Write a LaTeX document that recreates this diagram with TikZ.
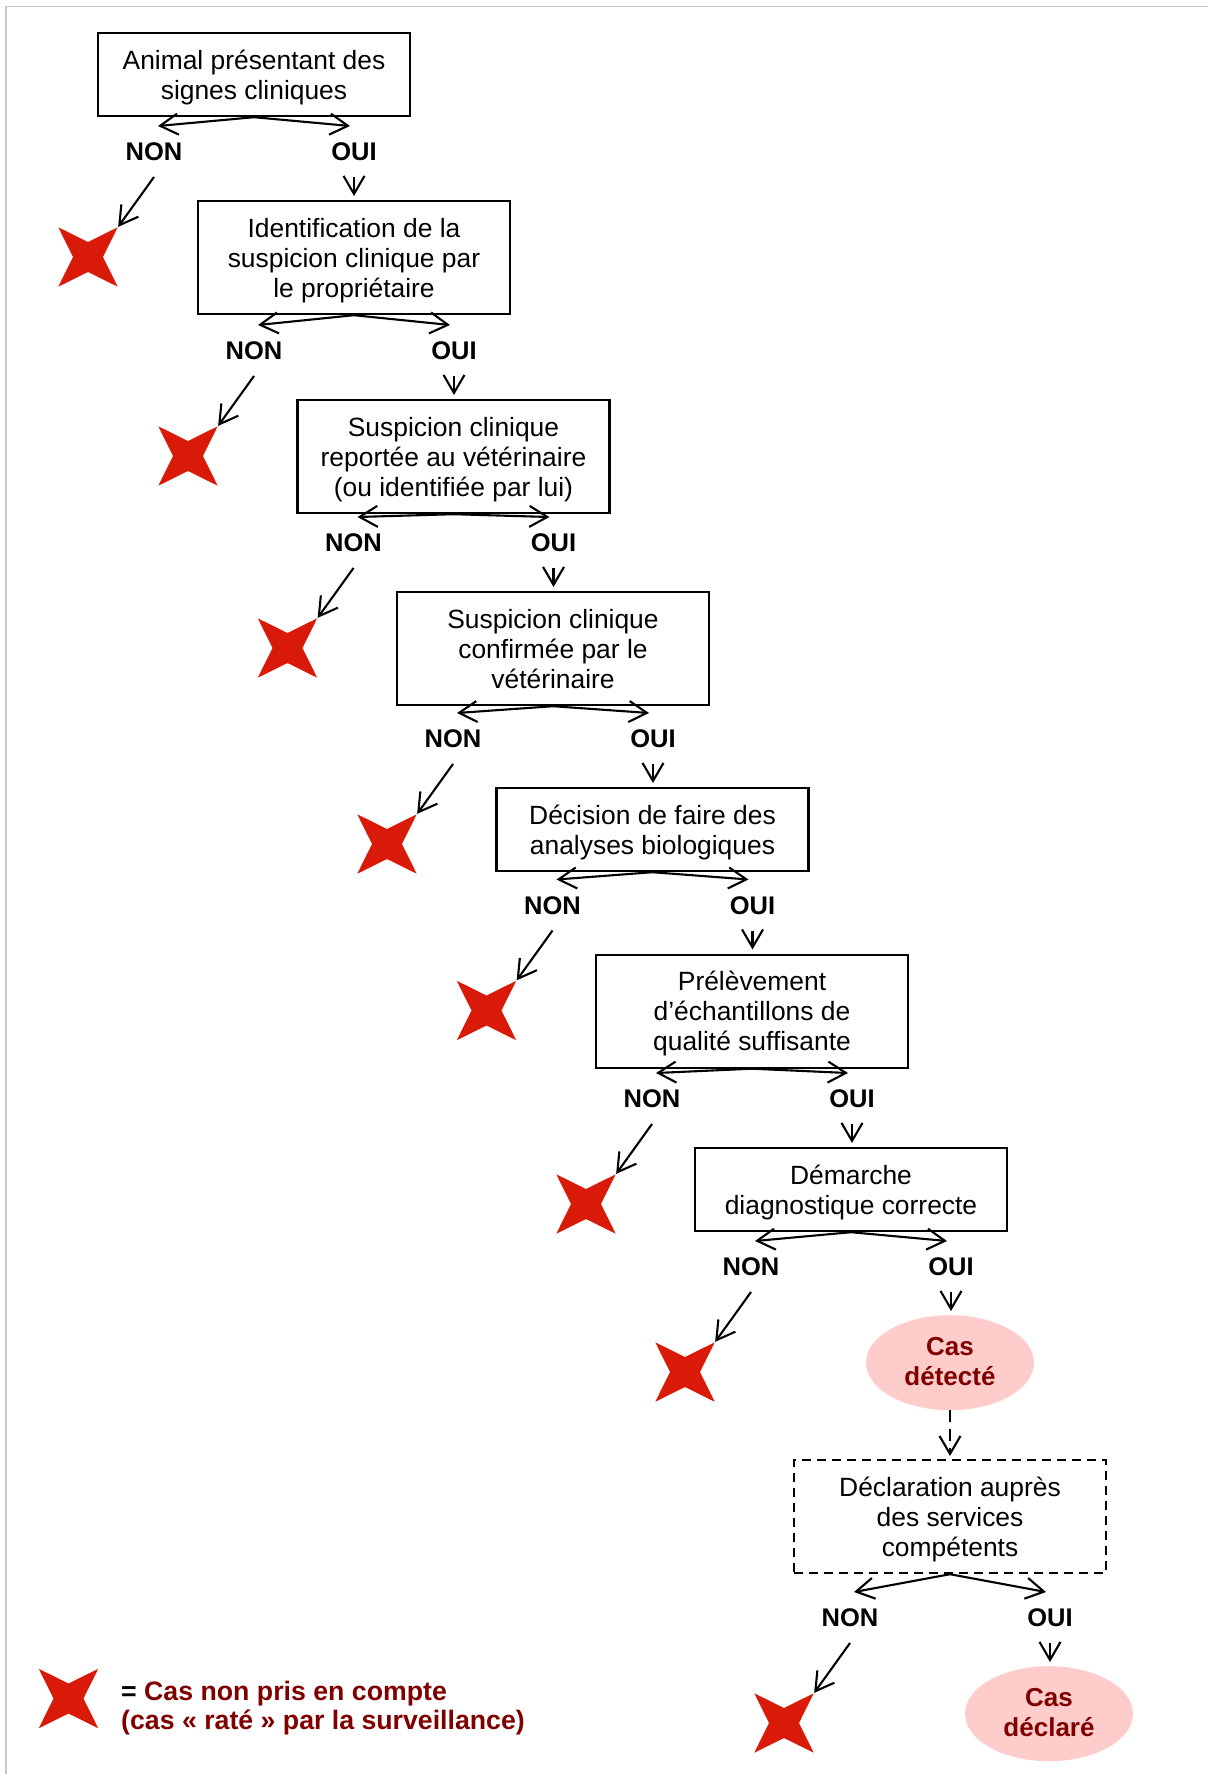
\documentclass[tikz,border=0pt]{standalone}
\usepackage{fontspec}
\setmainfont{Liberation Sans}
\usetikzlibrary{arrows.meta,shapes.geometric}
\definecolor{xred}{RGB}{218,26,8}
\definecolor{darkred}{RGB}{128,0,0}
\definecolor{pinkfill}{RGB}{255,204,204}
\definecolor{bordergray}{RGB}{200,200,200}
\tikzset{
 stepbox/.style={draw, line width=2.2bp, minimum width=312bp, align=center, inner sep=0pt,
   text depth=0pt, anchor=north, font=\fontsize{26.4bp}{30bp}\selectfont},
 two/.style={minimum height=83bp},
 three/.style={minimum height=113bp},
 lab/.style={font=\bfseries\fontsize{25.5bp}{30bp}\selectfont, anchor=base, inner sep=0pt},
 arr/.style={line width=2.1bp, -{Straight Barb[length=18bp,width=21bp,line width=2.1bp]}},
 missed/.style={shape=star, star points=4, star point ratio=2.8, fill=xred, draw=none,
   inner sep=0pt, minimum size=84bp, rotate=45},
 result/.style={ellipse, fill=pinkfill, minimum width=168bp, minimum height=95bp, inner sep=0pt,
   align=center, text depth=0pt, anchor=north, text=darkred,
   font=\bfseries\fontsize{26bp}{29.5bp}\selectfont},
 legtext/.style={anchor=base west, inner sep=0pt, text=darkred,
   font=\bfseries\fontsize{26.7bp}{29bp}\selectfont},
}
% #1 id, #2 centre x, #3 top y of next node, #4 this node, #5 next node
\newcommand\branchpair[5]{%
  \coordinate (tn#1) at ({#2-96},{#3-74});
  \coordinate (to#1) at ({#2+96},{#3-74});
  \draw[arr] (#4.south) -- (tn#1);
  \draw[arr] (#4.south) -- (to#1);
  \node[lab] (non#1) at ({#2-100},{#3-39.5}) {NON};
  \node[lab] (oui#1) at ({#2+100},{#3-39.5}) {OUI};
  \coordinate (ns#1) at ({#2-100},{#3-23});
  \coordinate (os#1) at ({#2+100},{#3-23});
  \node[missed] (x#1) at ({#2-166},{#3+57}) {};
  \draw[arr] (ns#1) -- (x#1.outer point 4);
  \draw[arr, shorten >=4bp] (os#1) -- (os#1 |- #5.north);
}
\begin{document}
\begin{tikzpicture}[x=1bp, y=-1bp]
\useasboundingbox (0,0) rectangle (1208,1774);
\draw[bordergray, line width=1.5bp] (6,1774) -- (6,6.5) -- (1208,6.5);

\node[stepbox, two]   (b1) at (254,32)    {Animal présentant des\\signes cliniques};
\node[stepbox, three] (b2) at (354,200)   {Identification de la\\suspicion clinique par\\le propriétaire};
\node[stepbox, three] (b3) at (453.5,399) {Suspicion clinique\\reportée au vétérinaire\\(ou identifiée par lui)};
\node[stepbox, three] (b4) at (553,591)   {Suspicion clinique\\confirmée par le\\vétérinaire};
\node[stepbox, two]   (b5) at (652.5,787) {Décision de faire des\\analyses biologiques};
\node[stepbox, three] (b6) at (752,953.5) {Prélèvement\\d’échantillons de\\qualité suffisante};
\node[stepbox, two]   (b7) at (851,1147)  {Démarche\\diagnostique correcte};
\node[result, text depth=3bp] (e1) at (950,1315)  {Cas\\détecté};
\node[stepbox, three, dash pattern=on 9bp off 6bp] (b8) at (950,1459) {Déclaration auprès\\des services\\compétents};
\node[result, text depth=3bp] (e2) at (1049,1666) {Cas\\déclaré};

\branchpair{1}{254}{200}{b1}{b2}
\branchpair{2}{354}{399}{b2}{b3}
\branchpair{3}{453.5}{591}{b3}{b4}
\branchpair{4}{553}{787}{b4}{b5}
\branchpair{5}{652.5}{953.5}{b5}{b6}
\branchpair{6}{752}{1147}{b6}{b7}
\branchpair{7}{851}{1315}{b7}{e1}
\branchpair{8}{950}{1666}{b8}{e2}

\draw[arr, dash pattern=on 12bp off 7bp, shorten >=3bp] (e1.south) -- (b8.north);

% legend
\node[missed] (lx) at (68.5,1698.5) {};
\node[legtext] (leg1) at (121,1700.5) {\textcolor{black}{=} Cas non pris en compte};
\node[legtext] (leg2) at (121,1729) {(cas « raté » par la surveillance)};
\end{tikzpicture}
\end{document}
